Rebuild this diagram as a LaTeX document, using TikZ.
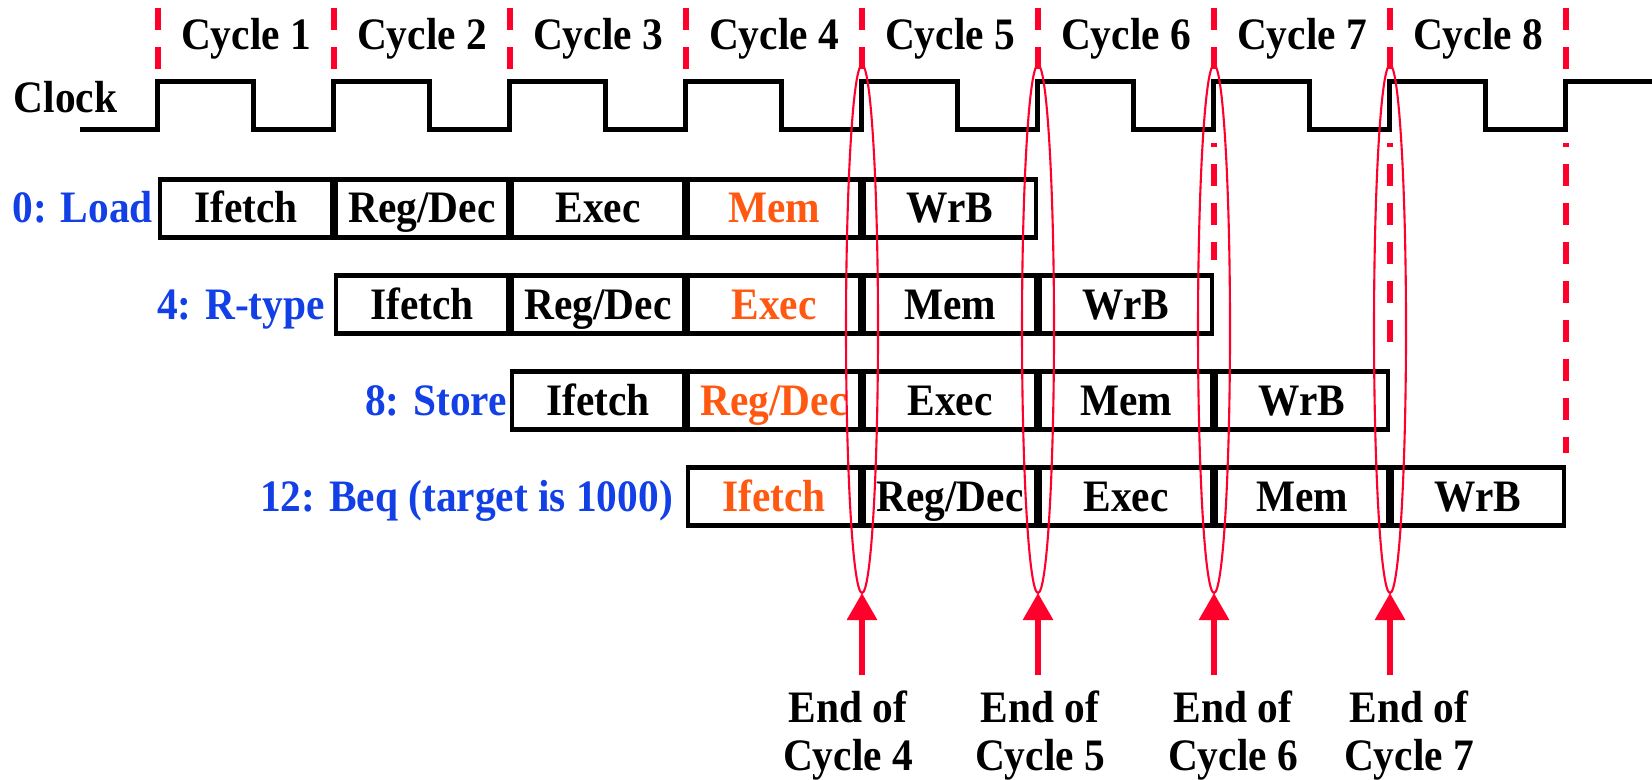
\documentclass[tikz,border=0pt]{standalone}
\usepackage{fontspec}
\setmainfont[FakeStretch=0.92]{Liberation Serif}
\usetikzlibrary{arrows.meta,shapes.geometric,positioning}

\definecolor{markred}{RGB}{255,0,43}
\definecolor{lblblue}{RGB}{18,64,230}
\definecolor{stageorange}{RGB}{255,88,16}

\tikzset{
	every node/.style={font=\fontsize{12.8}{15}\selectfont\bfseries, inner sep=0pt},
	stagebox/.style={draw, line width=1.4pt, minimum width=1.72cm, minimum height=0.58cm, text height=0.32cm, text depth=0.03cm},
	instr/.style={text=lblblue, text height=0.32cm, text depth=0.03cm},
	clockline/.style={line width=1.4pt},
	cyclemark/.style={markred, line width=1.55pt, dash pattern=on 0.22cm off 0.17cm},
	endmark/.style={draw=markred, ellipse, line width=0.6pt, minimum width=0.32cm, minimum height=5.28cm, outer sep=0pt},
	endarrow/.style={markred, line width=1.7pt, -{Triangle[length=0.27cm,width=0.29cm]}},
	endtext/.style={anchor=north, align=center, font=\fontsize{12.8}{13.6}\selectfont\bfseries},
}

\begin{document}
\begin{tikzpicture}
		\useasboundingbox (0,0) rectangle (16.52,-7.80);

		% Cycle boundaries
		\foreach \k in {0,...,8}
			\draw[cyclemark] ({1.58+1.76*\k},-0.08) -- ++(0,-0.61);
		\foreach \k/\yend in {6/-2.60,7/-3.55,8/-4.53}
			\draw[cyclemark, dash phase=0.18cm] ({1.58+1.76*\k},-1.43) -- ({1.58+1.76*\k},\yend);
		\foreach \k in {1,...,8}
			\node[anchor=base] (c\k) at ({1.58+1.76*\k-0.88},-0.50) {Cycle \k};

		% Clock
		\node[anchor=base west] (clk) at (0.13,-1.13) {Clock};
		\draw[clockline] (0.80,-1.295)
			\foreach \k in {0,...,7}{ -- ({1.575+1.76*\k},-1.295) -- ++(0,0.48) -- ++(0.96,0) -- ++(0,-0.48) }
			-- (15.655,-1.295) -- ++(0,0.48) -- (16.52,-0.815);

		% Pipeline stages
		\foreach \instr/\gap [count=\r from 0] in {0: Load/0.04cm, 4: R-type/0.08cm, 8: Store/0.02cm, 12: Beq (target is 1000)/0.12cm}{
			\foreach \stage [count=\s from 0] in {Ifetch,Reg/Dec,Exec,Mem,WrB}{
				\def\stagecol{black}
				\ifnum\numexpr\r+\s\relax=3 \def\stagecol{stageorange}\fi
				\node[stagebox, text=\stagecol] (s\r-\s) at ({2.46+1.76*(\r+\s)},{-2.085-0.96*\r}) {\stage};
			}
			\node[instr, left=\gap of s\r-0] (i\r) {\instr};
		}

		% End of cycle marks
		\foreach \k/\lx in {4/8.48,5/10.40,6/12.33,7/14.09}{
			\node[endmark] (e\k) at ({1.58+1.76*\k},-3.29) {};
			\coordinate (f\k) at ({1.58+1.76*\k},-6.75);
			\draw[endarrow] (f\k) -- (e\k.south);
			\node[endtext] (t\k) at (\lx,-6.90) {End of\\Cycle \k};
		}
	\end{tikzpicture}
\end{document}
